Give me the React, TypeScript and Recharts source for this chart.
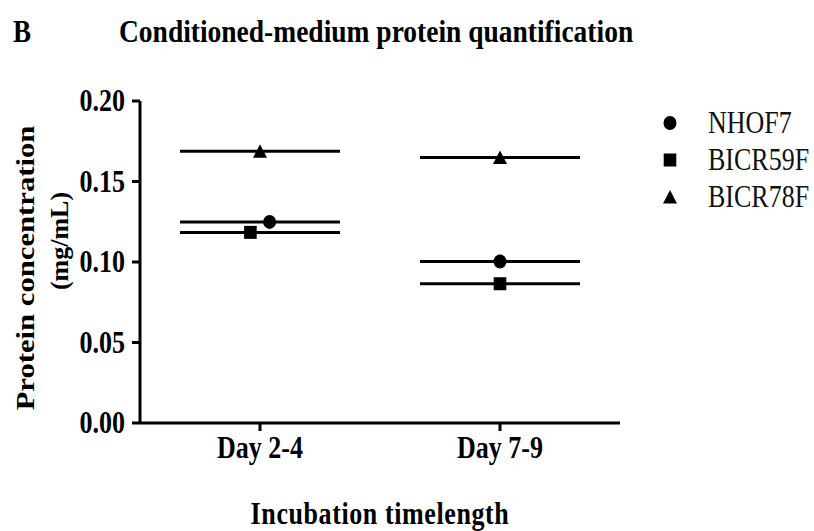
import React from 'react';
import { ScatterChart, Scatter, XAxis, YAxis, Customized } from 'recharts';

// ---- data ----
const categories = ['Day 2-4', 'Day 7-9'];
const categoryX = [1, 2];
const seriesNames = ['NHOF7', 'BICR59F', 'BICR78F'];
const nhof7 = [0.1249, 0.1003];
const bicr59f = [0.1184, 0.0865];
const bicr78f = [0.1688, 0.1649];
// horizontal nudges of overlapping symbols (category units)
const nhof7Nudge = [0.04, 0];
const bicr59fNudge = [-0.04, 0];
const bicr78fNudge = [0, 0];
const yTicks = [0, 0.05, 0.1, 0.15, 0.2];
const titleLetter = 'B';
const titleText = 'Conditioned-medium protein quantification';
const xTitle = 'Incubation timelength';
const yTitleLines = ['Protein concentration', '(mg/mL)'];

const FONT = '"Liberation Serif", "Times New Roman", serif';
const SY = 1.18;

const points = (vals: number[], nudge: number[]) =>
  categoryX.map((x, i) => ({ x: x + nudge[i], y: vals[i] }));
const means = (vals: number[]) => categoryX.map((x, i) => ({ x, y: vals[i] }));

const CircleMark = (p: any) => <ellipse cx={p.cx} cy={p.cy} rx={6.5} ry={7} fill="#000" />;
const SquareMark = (p: any) => <rect x={p.cx - 6.3} y={p.cy - 6.5} width={12.6} height={13} fill="#000" />;
const TriangleMark = (p: any) => (
  <polygon points={`${p.cx},${p.cy - 7} ${p.cx - 7},${p.cy + 6.5} ${p.cx + 7},${p.cy + 6.5}`} fill="#000" />
);
const MeanLine = (p: any) => (
  <line x1={p.cx - 80} x2={p.cx + 80} y1={p.cy} y2={p.cy} stroke="#000" strokeWidth={3} />
);
const marks = [CircleMark, SquareMark, TriangleMark];

const YTick = (props: any) => {
  const { x, y, payload } = props;
  return (
    <text transform={`translate(${x},${y}) scale(1,${SY})`} dy="0.34em" textAnchor="end"
      fontFamily={FONT} fontWeight="bold" fontSize={26} fill="#000">
      {Number(payload.value).toFixed(2)}
    </text>
  );
};

const XTick = (props: any) => {
  const { x, y, payload } = props;
  const idx = categoryX.indexOf(payload.value);
  return (
    <text transform={`translate(${x},${y + 25}) scale(1,${SY})`} textAnchor="middle"
      fontFamily={FONT} fontWeight="bold" fontSize={26} fill="#000">
      {categories[idx] ?? ''}
    </text>
  );
};

const LegendBlock = () => (
  <g transform="translate(660,100)">
    {seriesNames.map((name, i) => {
      const cy = 23 + i * 37;
      const M = marks[i];
      return (
        <g key={name}>
          <M cx={10} cy={cy} />
          <text transform={`translate(48,${cy}) scale(1,${SY})`} dy="0.34em" fontFamily={FONT}
            fontSize={26} fill="#111">{name}</text>
        </g>
      );
    })}
  </g>
);

const Texts = () => (
  <g>
    <text transform={`translate(13,42) scale(1,${SY})`} fontFamily={FONT} fontWeight="bold" fontSize={27} fill="#000">
      {titleLetter}
    </text>
    <text transform={`translate(119,42) scale(1,${SY})`} fontFamily={FONT} fontWeight="bold" fontSize={27.5} fill="#000">
      {titleText}
    </text>
    <text transform={`translate(380,524) scale(1,${SY})`} textAnchor="middle" fontFamily={FONT} fontWeight="bold"
      fontSize={26} letterSpacing={0.6} fill="#000">
      {xTitle}
    </text>
    <text transform={`translate(34,268) rotate(-90) scale(${SY},1)`} textAnchor="middle" fontFamily={FONT}
      fontWeight="bold" fontSize={26} fill="#000">
      {yTitleLines[0]}
    </text>
    <text transform={`translate(68,241) rotate(-90)`} textAnchor="middle" fontFamily={FONT}
      fontWeight="bold" fontSize={26} fill="#000">
      {yTitleLines[1]}
    </text>
    <LegendBlock />
  </g>
);

export default function App() {
  return (
    <div style={{ width: 814, height: 531, position: 'absolute', left: 0, top: 0, background: '#fff' }}>
      <ScatterChart width={814} height={531} margin={{ top: 101, right: 194, bottom: 78, left: 80 }}>
        <XAxis type="number" dataKey="x" domain={[0.5, 2.5]} ticks={categoryX} height={30}
          axisLine={{ stroke: '#000', strokeWidth: 3 }} tickLine={{ stroke: '#000', strokeWidth: 3 }}
          tickSize={8} tick={<XTick />} allowDataOverflow />
        <YAxis type="number" dataKey="y" domain={[0, 0.2]} ticks={yTicks} width={60}
          axisLine={{ stroke: '#000', strokeWidth: 3 }} tickLine={{ stroke: '#000', strokeWidth: 3 }}
          tickSize={8} tickMargin={7} tick={<YTick />} allowDataOverflow />
        <Scatter name="m1" data={means(nhof7)} shape={MeanLine} legendType="none" isAnimationActive={false} />
        <Scatter name="m2" data={means(bicr59f)} shape={MeanLine} legendType="none" isAnimationActive={false} />
        <Scatter name="m3" data={means(bicr78f)} shape={MeanLine} legendType="none" isAnimationActive={false} />
        <Scatter name={seriesNames[0]} data={points(nhof7, nhof7Nudge)} shape={CircleMark} fill="#000" isAnimationActive={false} />
        <Scatter name={seriesNames[1]} data={points(bicr59f, bicr59fNudge)} shape={SquareMark} fill="#000" isAnimationActive={false} />
        <Scatter name={seriesNames[2]} data={points(bicr78f, bicr78fNudge)} shape={TriangleMark} fill="#000" isAnimationActive={false} />
        <Customized component={Texts} />
      </ScatterChart>
    </div>
  );
}
